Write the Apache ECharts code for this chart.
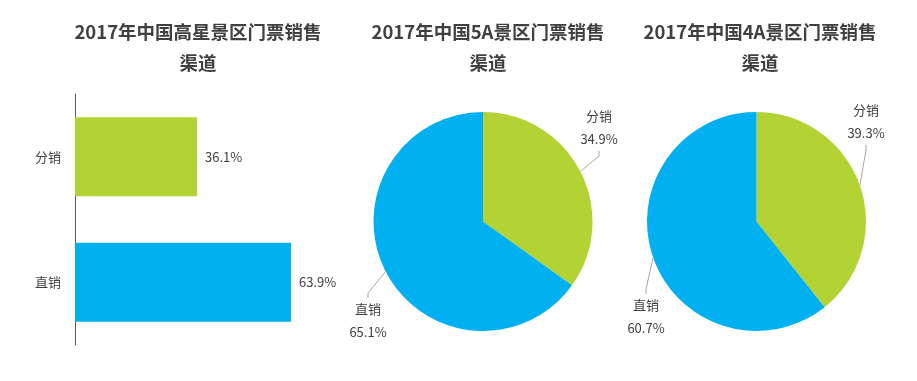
<!DOCTYPE html>
<html><head><meta charset="utf-8">
<script src="https://cdn.jsdelivr.net/npm/echarts@6/dist/echarts.min.js"></script>
<style>html,body{margin:0;padding:0;background:#fff}#c{width:917px;height:381px}</style>
</head><body><div id="c"></div>
<script>
const titles = ['2017年中国高星景区门票销售\n渠道', '2017年中国5A景区门票销售\n渠道', '2017年中国4A景区门票销售\n渠道'];
const categories = ['分销', '直销'];
const barValues = [36.1, 63.9];
const pie5AValues = [34.9, 65.1];
const pie4AValues = [39.3, 60.7];
const colors = ['#B3D334', '#00B0F0'];

const FONT = '"Noto Sans CJK SC", "Noto Sans", sans-serif';
const TXT = '#404040';

const chart = echarts.init(document.getElementById('c'), null, {renderer: 'canvas'});

const titleCenters = [193, 483, 755];
const pieCenters = [[483, 221.5], [756.5, 221.5]];
// label anchor positions [series][dataIndex] -> [x, y, align]
const pieLabelPos = [
  [[599, 128, 'center'], [368, 321, 'center']],
  [[866, 122, 'center'], [646, 317, 'center']]
];

function pieSeries(values, idx) {
  return {
    type: 'pie',
    center: pieCenters[idx],
    radius: 109.5,
    startAngle: 90,
    clockwise: true,
    animation: false,
    data: categories.map((c, i) => ({name: c, value: values[i], itemStyle: {color: colors[i]}})),
    itemStyle: {borderColor: '#fff', borderWidth: 0},
    label: {
      show: true,
      position: 'outside',
      formatter: p => p.name + '\n' + p.value.toFixed(1) + '%',
      fontFamily: FONT,
      fontSize: 13,
      color: TXT,
      lineHeight: 23,
      align: 'center',
      overflow: 'none'
    },
    labelLine: {show: true, lineStyle: {color: '#a6a6a6', width: 1}, length: 10, length2: 5},
    labelLayout: function (params) {
      const pos = pieLabelPos[idx][params.dataIndex];
      return {x: pos[0], y: pos[1], align: pos[2], verticalAlign: 'middle'};
    },
    emphasis: {disabled: true}
  };
}

const option = {
  animation: false,
  title: titles.map((t, i) => ({
    text: t,
    left: titleCenters[i],
    top: 11,
    textAlign: 'center',
    textStyle: {fontFamily: FONT, fontSize: 18.5, fontWeight: 'bold', color: TXT, lineHeight: 31}
  })),
  grid: {left: 75, top: 94, width: 338, height: 251, containLabel: false},
  xAxis: {
    type: 'value', min: 0, max: 100, show: false
  },
  yAxis: {
    type: 'category',
    data: categories,
    inverse: true,
    axisLine: {show: true, lineStyle: {color: '#595959', width: 1}},
    axisTick: {show: false},
    axisLabel: {fontFamily: FONT, fontSize: 13, color: TXT, margin: 14},
    splitLine: {show: false}
  },
  series: [
    {
      type: 'bar',
      data: barValues.map((v, i) => ({value: v, itemStyle: {color: colors[i]}})),
      barWidth: 79,
      label: {
        show: true, position: 'right', distance: 8,
        formatter: p => p.value.toFixed(1) + '%',
        fontFamily: FONT, fontSize: 13, color: TXT
      },
      emphasis: {disabled: true}
    },
    pieSeries(pie5AValues, 0),
    pieSeries(pie4AValues, 1)
  ]
};
chart.setOption(option);
</script>
</body></html>
